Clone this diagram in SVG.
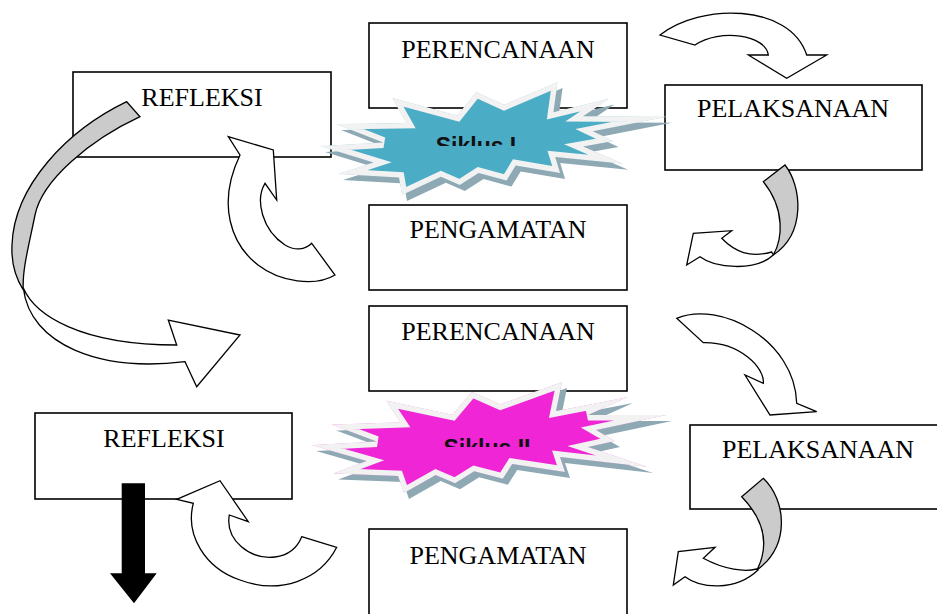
<svg xmlns="http://www.w3.org/2000/svg" xmlns:xlink="http://www.w3.org/1999/xlink" width="937" height="614" viewBox="0 0 937 614">
<style>
.box{fill:#fff;stroke:#000;stroke-width:1.6}
.lbl{font-family:"Liberation Serif","Times New Roman",serif;font-size:26px;fill:#000;text-anchor:middle}
.arr{fill:#fff;stroke:#000;stroke-width:1.3;stroke-linejoin:miter}
.arg{fill:#cbcbcb;stroke:#000;stroke-width:1.3;stroke-linejoin:miter}
.sk{font-family:"Liberation Sans",Arial,sans-serif;font-size:23px;font-weight:bold;fill:#111;text-anchor:middle}
.shadow{fill:#8ea9b4}
.rim{stroke:#f2f2f2;stroke-width:11;stroke-linejoin:miter}
</style>
<defs>
<polygon id="seal1" points="504.1,104.7 557.6,82 553.4,112.2 609.3,98.6 583.1,116.2 667,116.8 592.8,131.2 613.5,141.1 583.1,146.4 623.2,163.8 555.2,157.1 560.1,172.9 515.7,165.4 506.5,180.6 478.6,172.9 459.8,185.1 440.9,176.8 402,195 399,177.4 338,174 373.5,162.4 320,146 383.2,142.6 336,124 406.3,122.9 392.3,98 457.3,115.4 476.2,91.9"/>
<polygon id="seal2" points="500.4,404.3 562,382 556,411 628,397 588,415 667,415 596,430 615,441 588,447 648,467 560,457 565,472 512.2,463.9 502.8,478.8 474.2,471.3 455,483.3 435.7,475.1 404,493 398,476 333.1,473.6 366.7,461 311,445 376.7,441.6 331.3,424.5 400.3,422.2 386,400.6 452.5,414.8 471.8,391.7"/>
<clipPath id="c1"><use xlink:href="#seal1"/></clipPath>
<clipPath id="c2"><use xlink:href="#seal2"/></clipPath>
<clipPath id="t1"><rect x="400" y="120" width="160" height="26"/></clipPath>
<clipPath id="t2"><rect x="400" y="420" width="170" height="27"/></clipPath>
</defs>

<g id="perencanaan1"><rect class="box" x="369" y="23" width="258" height="85"/><text class="lbl" x="498" y="58">PERENCANAAN</text></g>
<g id="refleksi1"><rect class="box" x="73" y="72" width="258" height="85"/><text class="lbl" x="202" y="106">REFLEKSI</text></g>
<g id="pelaksanaan1"><rect class="box" x="665" y="85" width="257" height="85"/><text class="lbl" x="793" y="117">PELAKSANAAN</text></g>
<g id="pengamatan1"><rect class="box" x="369" y="205" width="258" height="85"/><text class="lbl" x="498" y="238">PENGAMATAN</text></g>
<g id="perencanaan2"><rect class="box" x="369" y="306" width="258" height="85"/><text class="lbl" x="498" y="340">PERENCANAAN</text></g>
<g id="refleksi2"><rect class="box" x="35" y="413" width="257" height="86"/><text class="lbl" x="164" y="447">REFLEKSI</text></g>
<g id="pelaksanaan2"><rect class="box" x="690" y="425" width="258" height="84"/><text class="lbl" x="818" y="458">PELAKSANAAN</text></g>
<g id="pengamatan2"><rect class="box" x="369" y="529" width="258" height="90"/><text class="lbl" x="498" y="564">PENGAMATAN</text></g>

<g id="connectors">
<path class="arr" d="M660,35 C700,3 790,3 806.7,55 L826.7,55 L786.7,78.3 L748.3,55 L768.3,55 C766,35 720,28 695,45 Z"/>
<path class="arr" d="M771.7,252 C750,258 735,252 721.7,238.3 L731.7,230.7 L693.3,233.3 L686.7,265 L700,256.7 C715,268 755,272 773.3,255 Z"/>
<path class="arg" d="M763.3,181.7 L785,165 C802,186.7 806,233.3 773.3,255 C782,240 786,210 763.3,181.7 Z"/>
<path class="arr" d="M311.7,243.3 L335,275 C315,287 280,282 258,265 C232,245 216,205 240,155 L228.3,136.7 L273.3,150 L276.7,200 L265,183.3 C255,200 262,230 285,245 C295,251 305,250 311.7,243.3 Z"/>
<path class="arr" d="M23.3,288 C35,315 80,345 176.7,345 L168.3,320 L240,335 L196.7,386.7 L185,361.7 C100,372 30,345 23.3,288 Z"/>
<path class="arg" d="M126.7,101.7 L140,116.7 C90,140 42,180 35,215 C29,245 22,270 23.3,290 C17,280 11,265 12,245 C14,185 68,130 126.7,101.7 Z"/>
<path class="arr" d="M676.7,318.3 C720,300 795,340 796.7,403.3 L816.7,411.7 L770,415 L745,375 L763.3,383.3 C765,368 740,342 703.3,342.7 Z"/>
<path class="arr" d="M756.7,569 C745,572 725,570 703.3,558.3 L715,547.3 L678.3,551.7 L673.3,585 L685,576.7 C700,588 735,592 758,570 Z"/>
<path class="arg" d="M741.7,496.7 L763.3,478.3 C786,500 791,545 757,570 C767,550 769,525 741.7,496.7 Z"/>
<path class="arr" d="M301.7,536.7 L336.7,547.3 C320,580 280,595 240,580 C205,568 185,535 193.3,503.3 L176.7,499.3 L220,480.7 L248.3,521.7 L229.3,515 C225,540 250,560 275,557 C290,555 298,546 301.7,536.7 Z"/>
<path fill="#000" d="M121.7,483.3 L145,483.3 L145,573.3 L156.7,573.3 L134,603.3 L110,573.3 L121.7,573.3 Z"/>
</g>

<g id="siklus1">
<use xlink:href="#seal1" class="shadow" transform="translate(5,6)"/>
<use xlink:href="#seal1" class="rim" fill="#4bacc6" clip-path="url(#c1)"/>
<text class="sk" x="476" y="153.5" clip-path="url(#t1)">Siklus I</text>
</g>
<g id="siklus2">
<use xlink:href="#seal2" class="shadow" transform="translate(5,6)"/>
<use xlink:href="#seal2" class="rim" fill="#f025d5" clip-path="url(#c2)"/>
<text class="sk" x="487" y="455.5" clip-path="url(#t2)">Siklus II</text>
</g>
</svg>
